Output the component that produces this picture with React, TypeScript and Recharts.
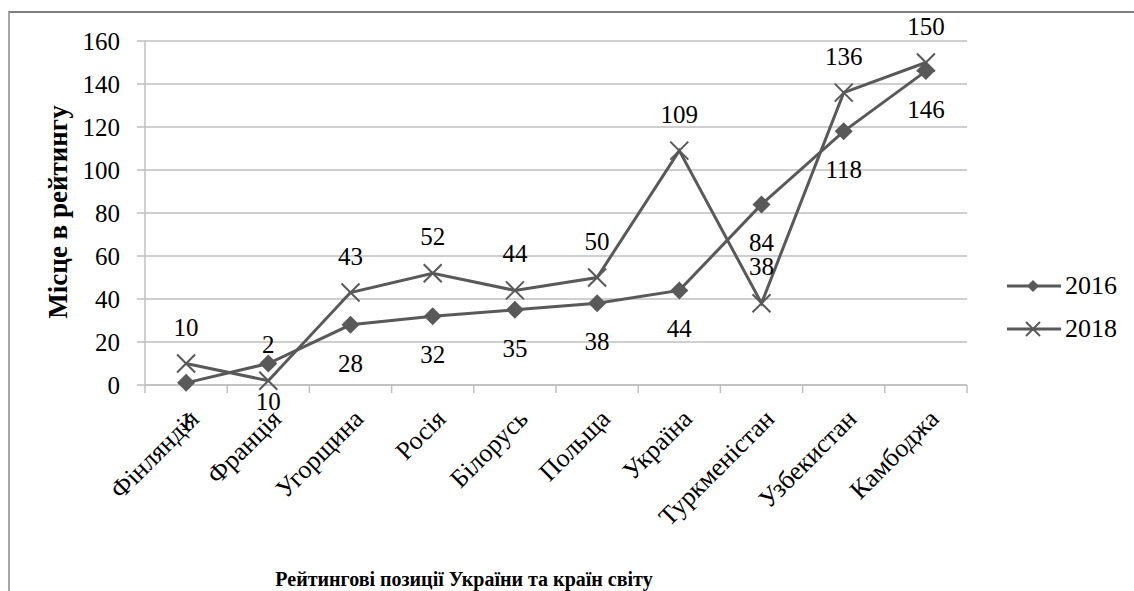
import { CartesianGrid, LabelList, Legend, Line, LineChart, XAxis, YAxis } from "recharts";

const categories = [
  "Фінляндія",
  "Франція",
  "Угорщина",
  "Росія",
  "Білорусь",
  "Польща",
  "Україна",
  "Туркменістан",
  "Узбекистан",
  "Камбоджа",
];
const values2016 = [1, 10, 28, 32, 35, 38, 44, 84, 118, 146];
const values2018 = [10, 2, 43, 52, 44, 50, 109, 38, 136, 150];
const yTicks = [0, 20, 40, 60, 80, 100, 120, 140, 160];

const data = categories.map((name, i) => ({
  name,
  y2016: values2016[i],
  y2018: values2018[i],
}));

const W = 1134;
const H = 591;
const PLOT_LEFT = 145;
const PLOT_RIGHT = 967;
const PLOT_TOP = 41;
const PLOT_BOTTOM = 385;
const HALF_BAND = (PLOT_RIGHT - PLOT_LEFT) / categories.length / 2;

const FONT = '"Liberation Serif", serif';
const LINE = "#595959";
const GRID = "#bfbfbf";

// recharts hands the dot its own `r`, so the marker size goes under another name
function Diamond({ cx, cy, size = 9 }: { cx?: number; cy?: number; size?: number }) {
  if (cx == null || cy == null) return null;
  const s = size;
  return (
    <polygon
      points={`${cx},${cy - s} ${cx + s},${cy} ${cx},${cy + s} ${cx - s},${cy}`}
      fill={LINE}
    />
  );
}

function Cross({ cx, cy, size = 9 }: { cx?: number; cy?: number; size?: number }) {
  if (cx == null || cy == null) return null;
  const s = size;
  return (
    <g stroke={LINE} strokeWidth={2}>
      <line x1={cx - s} y1={cy - s} x2={cx + s} y2={cy + s} />
      <line x1={cx - s} y1={cy + s} x2={cx + s} y2={cy - s} />
    </g>
  );
}

function CategoryTick(props: any) {
  const { x, y, payload, index } = props;
  const last = index === categories.length - 1;
  return (
    <g>
      <line x1={x - HALF_BAND} y1={y} x2={x - HALF_BAND} y2={y + 8} stroke={GRID} strokeWidth={1.5} />
      {last && (
        <line x1={x + HALF_BAND} y1={y} x2={x + HALF_BAND} y2={y + 8} stroke={GRID} strokeWidth={1.5} />
      )}
      <g transform={`translate(${x + 8},${y + 29})`}>
        <text
          transform="rotate(-45)"
          textAnchor="end"
          dy="0.35em"
          fontFamily={FONT}
          fontSize={26}
          fill="#000"
        >
          {payload.value}
        </text>
      </g>
    </g>
  );
}

function LegendBox() {
  const rows = [
    { label: "2016", marker: <Diamond cx={28} cy={10} size={6} /> },
    { label: "2018", marker: <Cross cx={28} cy={10} size={7} /> },
  ];
  return (
    <div>
      {rows.map((r) => (
        <div key={r.label} style={{ display: "flex", alignItems: "center", height: 43 }}>
          <svg width={60} height={20}>
            <line x1={2} y1={10} x2={56} y2={10} stroke={LINE} strokeWidth={3} />
            {r.marker}
          </svg>
          <span style={{ fontFamily: FONT, fontSize: 26, color: "#000" }}>{r.label}</span>
        </div>
      ))}
    </div>
  );
}

export default function App() {
  return (
    <div
      style={{
        position: "relative",
        width: W,
        height: H,
        background: "#fff",
        overflow: "hidden",
        fontFamily: FONT,
      }}
    >
      <style>{`body{margin:0}`}</style>
      <div
        style={{
          position: "absolute",
          left: 8,
          top: 11,
          width: W,
          height: H,
          borderLeft: "2px solid #a6a6a6",
          borderTop: "2px solid #7f7f7f",
        }}
      />
      <LineChart
        width={W}
        height={H}
        data={data}
        margin={{ top: PLOT_TOP, right: W - PLOT_RIGHT, bottom: 0, left: 0 }}
      >
        <CartesianGrid horizontal vertical={false} stroke={GRID} strokeWidth={1.5} />
        <XAxis
          dataKey="name"
          height={H - PLOT_BOTTOM}
          padding={{ left: HALF_BAND, right: HALF_BAND }}
          axisLine={{ stroke: GRID, strokeWidth: 1.5 }}
          tickLine={false}
          tickSize={0}
          tickMargin={0}
          interval={0}
          tick={<CategoryTick />}
        />
        <YAxis
          width={PLOT_LEFT}
          domain={[0, 160]}
          ticks={yTicks}
          interval={0}
          axisLine={{ stroke: GRID, strokeWidth: 1.5 }}
          tickLine={{ stroke: GRID, strokeWidth: 1.5 }}
          tickSize={8}
          tickMargin={17}
          tick={{ fill: "#000", fontSize: 25, fontFamily: FONT }}
        />
        <Legend
          layout="horizontal"
          verticalAlign="middle"
          align="center"
          wrapperStyle={{ left: 1005, top: 264, width: 130 }}
          content={() => <LegendBox />}
        />
        <Line
          dataKey="y2016"
          stroke={LINE}
          strokeWidth={3}
          dot={<Diamond />}
          activeDot={false}
          isAnimationActive={false}
        >
          <LabelList
            dataKey="y2016"
            position="bottom"
            offset={29}
            fill="#000"
            fontSize={25}
            fontFamily={FONT}
          />
        </Line>
        <Line
          dataKey="y2018"
          stroke={LINE}
          strokeWidth={3}
          dot={<Cross />}
          activeDot={false}
          isAnimationActive={false}
        >
          <LabelList
            dataKey="y2018"
            position="top"
            offset={28}
            fill="#000"
            fontSize={25}
            fontFamily={FONT}
          />
        </Line>
      </LineChart>
      <div
        style={{
          position: "absolute",
          left: 58,
          top: 212,
          transform: "translate(-50%, -50%) rotate(-90deg)",
          whiteSpace: "nowrap",
          fontFamily: FONT,
          fontWeight: "bold",
          fontSize: 27,
        }}
      >
        Місце в рейтингу
      </div>
      <div
        style={{
          position: "absolute",
          left: 464,
          top: 579,
          transform: "translate(-50%, -50%)",
          whiteSpace: "nowrap",
          fontFamily: FONT,
          fontWeight: "bold",
          fontSize: 20,
        }}
      >
        Рейтингові позиції України та країн світу
      </div>
    </div>
  );
}
